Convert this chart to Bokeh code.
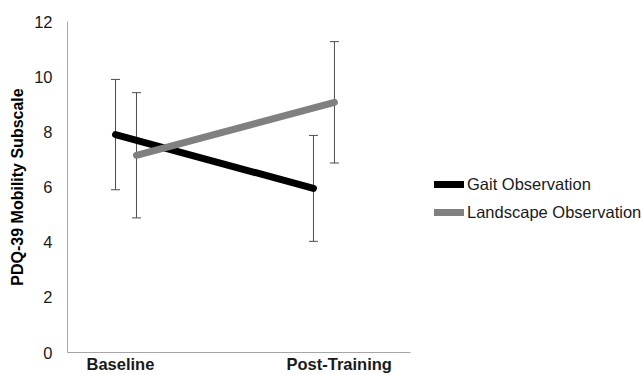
from bokeh.plotting import figure
from bokeh.models import (ColumnDataSource, Whisker, TeeHead, FixedTicker, Range1d,
                          Legend, LegendItem)
from bokeh.embed import file_html
from bokeh.resources import INLINE

# ---- data ----
categories = ["Baseline", "Post-Training"]
gait_mean = [7.9, 5.95]
gait_err = [2.0, 1.92]
land_mean = [7.15, 9.07]
land_err = [2.27, 2.2]
y_ticks = [0, 2, 4, 6, 8, 10, 12]
series_names = ["Gait Observation", "Landscape Observation"]

# ---- layout helpers (positions, not data) ----
gait_offset = 0.0
land_offset = 0.106
label_pos = [0.025, 1.13]

FONT = "Liberation Sans"
X0, X1 = -0.2424, 2.657

p = figure(width=641, height=375, output_backend="svg", toolbar_location=None,
           x_range=Range1d(X0, X1), y_range=Range1d(0, 12),
           min_border_left=67, min_border_top=21, min_border_right=0,
           min_border_bottom=0)
p.outline_line_color = None
p.xgrid.visible = False
p.ygrid.visible = False
p.background_fill_color = "white"
p.border_fill_color = "white"

def make_src(mean, err, offset):
    x = [i + offset for i in range(len(categories))]
    return ColumnDataSource(dict(
        x=x, y=mean,
        lo=[m - e for m, e in zip(mean, err)],
        hi=[m + e for m, e in zip(mean, err)]))

gsrc = make_src(gait_mean, gait_err, gait_offset)
lsrc = make_src(land_mean, land_err, land_offset)

for src in (gsrc, lsrc):
    w = Whisker(source=src, base="x", lower="lo", upper="hi",
                line_color="#4d4d4d", line_width=1,
                upper_head=TeeHead(size=9, line_color="#4d4d4d", line_width=1),
                lower_head=TeeHead(size=9, line_color="#4d4d4d", line_width=1))
    w.level = "underlay"
    p.add_layout(w)

gl = p.line("x", "y", source=gsrc, line_color="black", line_width=7,
            line_cap="round")
ll = p.line("x", "y", source=lsrc, line_color="#808080", line_width=7,
            line_cap="round")

# axes
xa = p.xaxis[0]
xa.ticker = FixedTicker(ticks=label_pos)
xa.major_label_overrides = {label_pos[i]: categories[i] for i in range(len(categories))}
xa.bounds = (X0, 1.49)
xa.major_tick_line_color = None
xa.minor_tick_line_color = None
xa.major_tick_out = 0
xa.major_label_standoff = 2
xa.axis_line_color = "#a6a6a6"
xa.major_label_text_font = FONT
xa.major_label_text_font_style = "bold"
xa.major_label_text_font_size = "16.5px"
xa.major_label_text_color = "#1a1a1a"

ya = p.yaxis[0]
ya.ticker = FixedTicker(ticks=y_ticks)
ya.major_tick_line_color = None
ya.minor_tick_line_color = None
ya.major_tick_out = 0
ya.major_label_standoff = 15
ya.axis_line_color = "#a6a6a6"
ya.major_label_text_font = FONT
ya.major_label_text_font_size = "16.5px"
ya.major_label_text_color = "#1a1a1a"
ya.axis_label = "PDQ-39 Mobility Subscale"
ya.axis_label_text_font = FONT
ya.axis_label_text_font_style = "bold"
ya.axis_label_text_font_size = "16px"
ya.axis_label_text_color = "black"
ya.axis_label_standoff = 5

legend = Legend(items=[LegendItem(label=series_names[0], renderers=[gl]),
                       LegendItem(label=series_names[1], renderers=[ll])],
                location=(367, 130))
legend.border_line_color = None
legend.background_fill_alpha = 0
legend.padding = 10
legend.spacing = 8
legend.glyph_width = 30
legend.glyph_height = 20
legend.label_height = 20
legend.label_standoff = 3
legend.label_text_font = FONT
legend.label_text_font_size = "16.5px"
legend.label_text_color = "#1a1a1a"
p.add_layout(legend)

open("out.html", "w").write(file_html(p, INLINE))
